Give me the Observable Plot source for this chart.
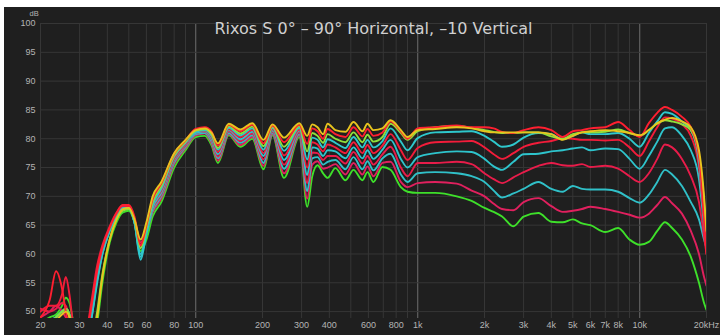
<!DOCTYPE html>
<html><head><meta charset="utf-8">
<script src="https://cdn.jsdelivr.net/npm/d3@7"></script>
<script src="https://cdn.jsdelivr.net/npm/@observablehq/plot@0.6"></script>
<style>
html,body{margin:0;padding:0;background:#fff;}
#chart{position:absolute;left:4px;top:7px;width:716px;height:328px;background:#1f1f1f;}
</style></head><body><div id="chart"></div>
<script>
const title = "Rixos S 0° – 90° Horizontal, –10 Vertical";
const freq = [20,22,23.5,25,26,27,28,30,32,34,36,38,41,44,47,50,53,56.5,60,64,70,80,90,100,110,118,
  126,141,159,180,202,222,250,293,318,335,354,375,393,426,473,514,564,594,632,694,755,840,900,
  1000,1200,1500,1750,2000,2200,2400,2700,3000,3500,4000,4500,5000,5500,6000,7000,8000,9000,10000,11000,12000,13000,14000,15500,17000,18500,19500,20000];
const angles = ["0°","10°","20°","30°","40°","50°","60°","70°","80°","90°"];
const colors = ["#e8c41e","#ff1f30","#8fe03a","#2ec8cc","#f31c3a","#2ec4cc","#e81c4a","#30c0c8","#e0205e","#3ee02a"];
const xTicks = [20,30,40,50,60,80,100,200,300,400,600,800,1000,2000,3000,4000,5000,6000,7000,8000,10000,20000];
const xLabels = ["20","30","40","50","60","80","100","200","300","400","600","800","1k","2k","3k","4k","5k","6k","7k","8k","10k","20kHz"];
const yTicks = [50,55,60,65,70,75,80,85,90,95,100];
const gridMinor = [20,30,40,50,60,70,80,90,200,300,400,500,600,700,800,900,2000,3000,4000,5000,6000,7000,8000,9000,20000];
const gridMajor = [100,1000,10000];

const s0 = [47,48,48.5,49.5,50,49,46,43,42,44,49,56,62.5,66,67.8,68,66,62.5,65.5,70,72.5,77.5,79.8,81.5,81.8,81,
  79.2,82.6,81.6,82.7,79.8,82.5,80.2,82.7,80.5,82.5,82.0,80.8,82.6,81.5,81.2,82.9,81.3,82.6,81.5,81.8,83.2,81.5,80.3,
  81.5,81.7,82,81.8,81.3,81.1,81.1,81.1,81.1,81.1,80.8,79.8,80.5,81.1,81.3,81.5,81.3,81,80.6,81.5,82.7,83.3,83.6,83,82,78,70,64];
const s10 = [49,52,57,54,50,47,44,42,45,51,57,61,64.5,67,68.5,68.5,66.5,61.5,65,69.5,72.2,77.4,79.7,81.7,82,81.2,
  78.8,82.4,81.3,82.4,79.2,82.3,79.4,82.4,79.1,81.8,81.3,80.0,81.7,80.8,80.3,82.0,80.4,81.7,80.5,81.1,83.0,81.3,80.0,
  81.8,82,82.3,82,82,81.8,81.2,81,81.5,82,81.5,80.3,81.3,81.5,81.8,82,82.9,81.5,80.3,82.7,84.5,85.5,85,83.8,82,77,66,60];
const s20 = [47,48,49,50,50.5,49.5,46,43,42,44.5,50,56.5,62.5,66,67.5,67.8,66,61,64.5,69,71.8,77.1,79.5,81.4,81.7,80.8,
  78.4,82.2,80.9,82.1,78.7,82.1,78.6,82.2,77.8,81.0,80.5,79.3,80.8,80.0,79.4,81.1,79.4,80.7,79.5,80.3,82.6,81.0,79.8,
  81.3,82,82.2,81.9,81.5,81.2,81,81,81.1,81.1,80.4,80,80.8,81.1,81.1,81.2,81.6,81,80.5,81.5,82.6,83.2,83,82.5,81.5,77,69,63];
const s30 = [47.5,48,49,50,50.5,49.5,47,43,44,49,55,60,64,66.5,67.8,68,65.5,59.5,64,68.5,71.3,76.9,79.3,81.2,81.5,80.5,
  78.1,81.9,80.6,81.8,78.1,81.9,77.9,81.9,76.4,80.2,79.8,78.5,79.9,79.3,78.4,80.3,78.5,79.8,78.5,79.6,81.8,79.5,78.0,
  80.1,81.1,81.2,81.3,80.5,79.5,78.6,79,80.2,81,80.8,79.9,80.5,81.1,80.8,80.8,81,80,78.6,81,83,84.6,84.3,83,81.5,76,67,62];
const s40 = [50,51,51,53,56,53,48,44,46,52,58,61.5,64.8,67.2,68.5,68.3,66,61,64.5,68.5,71,76.6,79.1,81.3,81.4,80.3,
  77.7,81.7,80.3,81.5,77.5,81.7,77.1,81.6,75.0,79.4,79.0,77.8,79.0,78.5,77.5,79.4,77.5,78.9,77.5,78.8,80.8,78.0,76.3,
  78.4,79.4,79.5,79.6,78.5,77.3,76.5,77.5,78.6,79.3,79.6,80.1,80,79.8,79.8,79.7,79.8,78.5,77,79.5,82,83.7,83.5,82.5,80.5,75,66,60.5];
const s50 = [48,48.5,49,50,50.5,49,46,43,44,50,56,60.5,64.3,66.8,68,68,65.5,59,63.5,68,70.6,76.4,79,81,81.3,80,
  77.3,81.5,79.9,81.2,77.0,81.4,76.3,81.4,73.7,78.5,78.3,77.0,78.0,77.8,76.6,78.5,76.6,78.0,76.5,78.1,79.8,76.5,75.0,
  76.8,77.5,77.8,77.7,76.5,75.2,74.6,76,77.3,77.4,77.8,78,78.3,78.5,78,78.3,78.2,76.5,74.8,77,79.5,81.8,82,80.5,78,73,65,61.5];
const s60 = [50.5,50,50.5,51.5,51,49,46,43,45.5,51,57,61,64.5,67,68.3,68.3,66,61.5,64,67.8,70.3,76.2,78.8,81,81.2,79.8,
  76.9,81.3,79.6,80.9,76.4,81.2,75.5,81.1,72.3,77.6,77.5,76.3,77.0,77.0,75.7,77.7,75.7,77.0,75.5,77.3,78.6,75.0,73.5,
  75.8,75.8,76,75.6,74,73,72.3,73.3,74.2,75.3,75.8,75.4,75.3,75.6,75.1,75.3,74.8,73.5,72.5,74,76.5,79,78.5,76.5,73.5,69,63,60];
const s70 = [48,48.5,49,50,50.5,49.5,46.5,43,43.5,49,55.5,60,64,66.5,67.8,67.8,65.5,60,63.5,67.5,70,75.9,78.6,80.8,81,79.5,
  76.6,81.0,79.3,80.6,75.8,81.0,74.8,80.8,70.9,76.6,76.8,75.5,76.0,76.3,74.7,76.8,74.7,76.1,74.5,76.6,77.4,73.8,72.5,
  74,74.2,74,73.5,72.5,71,69.8,70.5,71.3,72.5,71.3,70.8,71.8,71.3,71.2,71.2,70.8,69.7,68.9,70.3,72.5,74.6,73.8,71.8,69,66,62.5,61];
const s80 = [49,50,51,50,49,47.5,45,42.5,44,50,56,60.5,64.2,66.8,68,68,66,62,64,67.2,69.6,75.6,78.4,80.6,80.9,79.2,
  76.2,80.8,78.9,80.3,75.3,80.8,74.0,80.6,69.6,75.5,76.1,74.8,75.0,75.6,73.8,75.8,73.8,75.2,73.5,75.8,76.0,72.5,71.6,
  72.3,72.5,72.2,71,70,68.7,67.8,67.6,69,69.7,68.3,67.3,67.5,67.8,68.2,67.8,67.3,66.8,66.3,67,68.5,69.9,68.8,67,64,60,56,54.5];
const s90 = [48,49,49.5,51,52.4,51.5,48.5,44,42,43.5,48,55,62,65.5,67.2,67.5,65.5,60.5,62.5,66.5,69,75,78,80.3,80.5,78.8,
  75.8,80.6,78.6,80.0,74.7,80.6,73.2,80.3,68.2,73.5,75.4,74.0,73.2,74.9,72.8,74.6,72.8,74.2,72.5,75.1,74.6,71.6,70.8,
  70.6,70.6,70,69.2,68,67.3,66.5,64.8,66.5,67.1,65.6,65.5,66,65.3,65,63.8,64.5,62.5,61.6,62.1,64,65.5,64.5,62.5,59.5,55,51.5,50.3];
const series = [s0,s10,s20,s30,s40,s50,s60,s70,s80,s90];

const rows = [];
for (let k = series.length - 1; k >= 0; k--) {
  freq.forEach((f, i) => rows.push({angle: angles[k], f, db: series[k][i]}));
}
const xTickRows = xTicks.map((v, i) => ({v, label: xLabels[i]}));

const chart = Plot.plot({
  width: 716, height: 328,
  marginLeft: 36, marginRight: 14, marginTop: 16, marginBottom: 17,
  style: {background: "#1f1f1f", color: "#b4b4b4", fontFamily: "'Liberation Sans', sans-serif", fontSize: "9px", overflow: "visible"},
  x: {type: "log", domain: [20, 20000], axis: null},
  y: {domain: [48.8, 100]},
  color: {type: "ordinal", domain: angles, range: colors},
  marks: [
    Plot.ruleX(gridMinor, {stroke: "#363636", strokeWidth: 1}),
    Plot.ruleX(gridMajor, {stroke: "#5c5c5c", strokeWidth: 1.3}),
    Plot.ruleY(yTicks, {stroke: "#363636"}),
    Plot.text(xTickRows, {x: "v", text: "label", frameAnchor: "bottom", lineAnchor: "top", dy: 3, fill: "#b4b4b4"}),
    Plot.axisY({ticks: yTicks, tickSize: 0, tickPadding: 5, label: null}),
    Plot.text(["dB"], {frameAnchor: "top-left", dx: -11, dy: -13, fontSize: 7.5}),
    Plot.line(rows, {x: "f", y: "db", z: "angle", stroke: "angle", strokeWidth: 1.9, curve: "monotone-x", clip: true}),
    Plot.text([title], {frameAnchor: "top", dy: 5, lineAnchor: "middle", fontSize: 16, fill: "#d0d0d0", fontFamily: "'DejaVu Sans', sans-serif", letterSpacing: "0.3px"})
  ]
});
document.getElementById("chart").appendChild(chart);
</script>
</body></html>
